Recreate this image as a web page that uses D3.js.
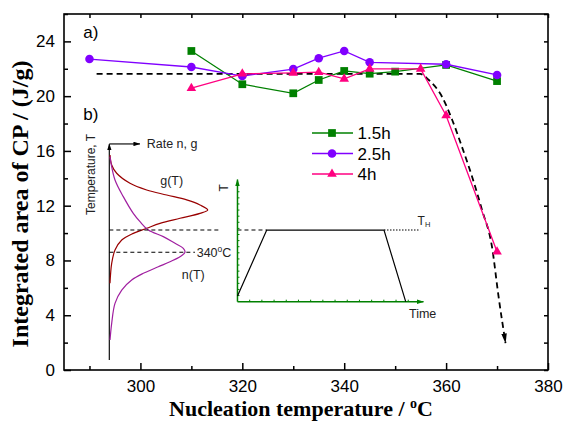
<!DOCTYPE html>
<html>
<head>
<meta charset="utf-8">
<script src="https://cdn.jsdelivr.net/npm/d3@7"></script>
<style>
  body { margin: 0; background: #fff; }
  text { font-family: "Liberation Sans", Arial, sans-serif; }
  .title { font-family: "Liberation Serif", "Times New Roman", serif; font-weight: bold; }
</style>
</head>
<body>
<svg id="chart" width="564" height="421"></svg>
<script>
// main series, temperature (C) and integrated area (J/g)
const t15 = [310, 320, 330, 335, 340, 345, 350, 360, 370];
const v15 = [23.3, 20.87, 20.21, 21.18, 21.84, 21.64, 21.79, 22.28, 21.1];
const t25 = [290, 310, 320, 330, 335, 340, 345, 360, 370];
const v25 = [22.71, 22.13, 21.47, 21.98, 22.77, 23.3, 22.47, 22.33, 21.55];
const t4 = [310, 320, 330, 335, 340, 345, 355, 360, 370];
const v4 = [20.58, 21.63, 21.7, 21.75, 21.26, 21.99, 21.99, 18.59, 8.63];

// dashed guide line
const guideT = [291.4, 354.9, 356.6, 359.2, 361.2, 363.1, 365.1, 367.05, 369.0, 370.3, 371.66];
const guideV = [21.62, 21.62, 21.18, 19.96, 18.26, 16.31, 14.12, 11.69, 9.01, 5.35, 1.97];

// inset b): g(T) and n(T) curves, drawn in the main axis units
const gT = [294.03, 294.36, 295.34, 297.95, 301.23, 305.16, 309.08, 311.69, 313.21, 311.69, 307.77, 303.84, 301.23, 298.6, 296.33, 295.01, 294.36, 294.03];
const gV = [15.70, 14.97, 14.37, 13.64, 13.15, 12.78, 12.42, 12.05, 11.69, 11.44, 11.08, 10.71, 10.35, 9.98, 9.49, 8.76, 7.79, 6.33];
const nT = [294.03, 294.23, 295.01, 296.64, 298.6, 299.92, 301.55, 304.49, 306.79, 308.42, 308.75, 307.77, 305.81, 303.51, 300.57, 298.29, 296.33, 295.01, 294.36, 294.03];
const nV = [15.58, 15.10, 13.88, 12.66, 11.44, 10.83, 10.22, 9.74, 9.25, 8.89, 8.60, 8.27, 7.91, 7.54, 7.06, 6.57, 5.84, 4.87, 3.41, 2.19];

// inset temperature profile (trapezoid)
const profT = [319.05, 324.79, 347.81, 352.07];
const profV = [5.40, 10.22, 10.22, 4.99];

const xTicks = d3.range(290, 381, 10);
const yTicks = d3.range(0, 27, 2);

const green = '#008000';
const purple = '#8000ff';
const pink = '#ff0080';

const svg = d3.select('#chart');
const W = 564, H = 421;
svg.append('rect').attr('width', W).attr('height', H).attr('fill', '#fff');

const x = d3.scaleLinear().domain([285, 380]).range([64, 548]);
const y = d3.scaleLinear().domain([0, 26]).range([370, 14]);

const defs = svg.append('defs');
function arrowMarker(id, color, len, wid) {
  defs.append('marker')
    .attr('id', id)
    .attr('viewBox', `0 ${-wid / 2} ${len} ${wid}`)
    .attr('refX', len - 0.5)
    .attr('refY', 0)
    .attr('markerUnits', 'userSpaceOnUse')
    .attr('markerWidth', len)
    .attr('markerHeight', wid)
    .attr('orient', 'auto')
    .append('path')
      .attr('d', `M0,${-wid / 2}L${len},0L0,${wid / 2}Z`)
      .attr('fill', color);
}
arrowMarker('arrDash', '#000', 10, 5.5);
arrowMarker('arrBlack', '#000', 7, 4.5);
arrowMarker('arrGreen', green, 7, 4.5);

// axes
const bottom = svg.append('g')
  .attr('transform', `translate(0,${y(0)})`)
  .call(d3.axisBottom(x).tickValues(xTicks).tickSizeInner(0).tickSizeOuter(0).tickPadding(9.5)
    .tickFormat(d => (d % 20 === 0 ? d : '')));
bottom.selectAll('.tick line').attr('y2', d => (d % 20 === 0 ? -7 : -4));

const left = svg.append('g')
  .attr('transform', `translate(${x(285)},0)`)
  .call(d3.axisLeft(y).tickValues(yTicks).tickSizeInner(0).tickSizeOuter(0).tickPadding(9)
    .tickFormat(d => (d % 4 === 0 && d <= 24 ? d : '')));
left.selectAll('.tick line').attr('x2', d => (d % 4 === 0 ? 7 : 4));

svg.append('g')
  .attr('transform', `translate(0,${y(26)})`)
  .call(d3.axisTop(x).tickValues(xTicks).tickSizeInner(-4).tickSizeOuter(0).tickFormat(''));

svg.append('g')
  .attr('transform', `translate(${x(380)},0)`)
  .call(d3.axisRight(y).tickValues(yTicks).tickSizeInner(-4).tickSizeOuter(0).tickFormat(''));

svg.selectAll('.domain').remove();
svg.selectAll('.tick line').attr('stroke', '#000').attr('stroke-width', 1.5);
svg.selectAll('.tick text').attr('font-size', 17).attr('fill', '#000')
  .style('font-family', '"Liberation Sans", Arial, sans-serif');

svg.append('rect')
  .attr('x', x(285)).attr('y', y(26))
  .attr('width', x(380) - x(285)).attr('height', y(0) - y(26))
  .attr('fill', 'none').attr('stroke', '#000').attr('stroke-width', 1.6);

// axis titles
svg.append('text')
  .attr('class', 'title')
  .attr('x', 301).attr('y', 416)
  .attr('text-anchor', 'middle')
  .attr('font-size', 22)
  .text('Nucleation temperature / ')
  .append('tspan').attr('font-size', 14).attr('dy', -8).text('o')
  .select(function () { return this.parentNode; })
  .append('tspan').attr('dy', 8).text('C');

svg.append('text')
  .attr('class', 'title')
  .attr('transform', 'translate(28,204) rotate(-90)')
  .attr('text-anchor', 'middle')
  .attr('font-size', 24)
  .text('Integrated area of CP / (J/g)');

// panel letters
svg.append('text').attr('x', x(288.8)).attr('y', y(24.25)).attr('font-size', 17).text('a)');
svg.append('text').attr('x', x(288.8)).attr('y', y(18.26)).attr('font-size', 17).text('b)');

// dashed guide
const guide = guideT.map((t, i) => [t, guideV[i]]);
svg.append('path')
  .attr('d', d3.line().x(d => x(d[0])).y(d => y(d[1])).curve(d3.curveMonotoneX)(guide))
  .attr('fill', 'none')
  .attr('stroke', '#000')
  .attr('stroke-width', 1.8)
  .attr('stroke-dasharray', '6 4')
  .attr('marker-end', 'url(#arrDash)');

// data series
const series = [
  { name: '1.5h', color: green, symbol: d3.symbolSquare, size: 60, t: t15, v: v15 },
  { name: '2.5h', color: purple, symbol: d3.symbolCircle, size: 58, t: t25, v: v25 },
  { name: '4h', color: pink, symbol: d3.symbolTriangle, size: 40, t: t4, v: v4 },
];

const line = d3.line().x(d => x(d[0])).y(d => y(d[1]));
series.forEach((s) => {
  const pts = s.t.map((t, i) => [t, s.v[i]]);
  svg.append('path')
    .attr('d', line(pts))
    .attr('fill', 'none')
    .attr('stroke', s.color)
    .attr('stroke-width', 1.3);
  svg.selectAll(null)
    .data(pts)
    .enter()
    .append('path')
      .attr('d', d3.symbol().type(s.symbol).size(s.size))
      .attr('transform', d => `translate(${x(d[0])},${y(d[1])})`)
      .attr('fill', s.color);
});

// legend
const legend = svg.append('g').attr('transform', 'translate(312,133)');
series.forEach((s, i) => {
  const row = legend.append('g').attr('transform', `translate(0,${i * 20.5})`);
  row.append('line').attr('x1', 0).attr('x2', 41).attr('stroke', s.color).attr('stroke-width', 1.3);
  row.append('path')
    .attr('d', d3.symbol().type(s.symbol).size(s.size))
    .attr('transform', 'translate(20,0)')
    .attr('fill', s.color);
  row.append('text').attr('x', 45.5).attr('dy', '0.36em').attr('font-size', 17).text(s.name);
});

// ---- inset b): rate curves ----
const inset = svg.append('g');
const ink = '#222';

inset.append('line')
  .attr('x1', x(293.9)).attr('y1', y(0.73))
  .attr('x2', x(293.9)).attr('y2', y(16.51))
  .attr('stroke', ink).attr('stroke-width', 1.3)
  .attr('marker-end', 'url(#arrBlack)');
inset.append('line')
  .attr('x1', x(293.9)).attr('y1', y(16.51))
  .attr('x2', x(299.9)).attr('y2', y(16.51))
  .attr('stroke', ink).attr('stroke-width', 1.3)
  .attr('marker-end', 'url(#arrBlack)');

inset.append('text')
  .attr('x', x(301.23)).attr('y', y(16.19))
  .attr('font-size', 12.5).attr('fill', ink)
  .text('Rate n, g');

inset.append('text')
  .attr('transform', `translate(${x(291.1)},${y(11.32)}) rotate(-90)`)
  .attr('font-size', 12).attr('fill', ink)
  .text('Temperature, T');

const curve = d3.line().x(d => x(d[0])).y(d => y(d[1])).curve(d3.curveCatmullRom.alpha(0.5));
inset.append('path')
  .attr('d', curve(gT.map((t, i) => [t, gV[i]])))
  .attr('fill', 'none').attr('stroke', '#990000').attr('stroke-width', 1.2);
inset.append('path')
  .attr('d', curve(nT.map((t, i) => [t, nV[i]])))
  .attr('fill', 'none').attr('stroke', '#a01fa0').attr('stroke-width', 1.2);

// horizontal guides in the inset
const dashes = [
  { t0: 293.9, t1: 315.3, v: 10.22, dash: '4 3' },
  { t0: 319.05, t1: 324.79, v: 10.22, dash: '4 3' },
  { t0: 293.9, t1: 310.7, v: 8.60, dash: '4 3' },
  { t0: 347.81, t1: 354.9, v: 10.22, dash: '1.5 1.5' },
];
dashes.forEach((d) => {
  inset.append('line')
    .attr('x1', x(d.t0)).attr('x2', x(d.t1))
    .attr('y1', y(d.v)).attr('y2', y(d.v))
    .attr('stroke', '#000').attr('stroke-width', 1.1)
    .attr('stroke-dasharray', d.dash);
});

inset.append('text')
  .attr('x', x(306.14)).attr('y', y(13.51))
  .attr('text-anchor', 'middle')
  .attr('font-size', 12.5).attr('fill', ink)
  .text('g(T)');
inset.append('text')
  .attr('x', x(310.38)).attr('y', y(6.65))
  .attr('text-anchor', 'middle')
  .attr('font-size', 12.5).attr('fill', ink)
  .text('n(T)');
inset.append('text')
  .attr('x', x(311.05)).attr('y', y(8.27))
  .attr('font-size', 12.5).attr('fill', ink)
  .text('340')
  .append('tspan').attr('font-size', 8.5).attr('dy', -5).text('o')
  .select(function () { return this.parentNode; })
  .append('tspan').attr('dy', 5).text('C');

// ---- inset: temperature profile ----
const ox = x(319.05), oy = y(4.99);
const timeAxis = d3.scaleLinear().domain([0, 15.25]).range([ox, x(355.56)]);
const tempAxis = d3.scaleLinear().domain([0, 20]).range([oy, y(13.91)]);

inset.append('line')
  .attr('x1', ox).attr('y1', oy).attr('x2', x(355.56)).attr('y2', oy)
  .attr('stroke', green).attr('stroke-width', 1.5)
  .attr('marker-end', 'url(#arrGreen)');
inset.append('line')
  .attr('x1', ox).attr('y1', oy).attr('x2', ox).attr('y2', y(13.91))
  .attr('stroke', green).attr('stroke-width', 1.5)
  .attr('marker-end', 'url(#arrGreen)');

inset.selectAll(null)
  .data(d3.range(1, 15))
  .enter()
  .append('line')
    .attr('x1', d => timeAxis(d)).attr('x2', d => timeAxis(d))
    .attr('y1', oy).attr('y2', oy - 2)
    .attr('stroke', green).attr('stroke-width', 1);
inset.selectAll(null)
  .data(d3.range(1, 19))
  .enter()
  .append('line')
    .attr('x1', ox).attr('x2', ox + 2)
    .attr('y1', d => tempAxis(d)).attr('y2', d => tempAxis(d))
    .attr('stroke', green).attr('stroke-width', 1);

inset.append('path')
  .attr('d', d3.line().x(d => x(d[0])).y(d => y(d[1]))(profT.map((t, i) => [t, profV[i]])))
  .attr('fill', 'none').attr('stroke', '#000').attr('stroke-width', 1.2);

inset.append('text')
  .attr('transform', `translate(${x(317.2)},${y(13.3)}) rotate(-90)`)
  .attr('text-anchor', 'middle')
  .attr('font-size', 12).attr('fill', ink)
  .text('T');
inset.append('text')
  .attr('x', x(355.4)).attr('y', y(3.78))
  .attr('text-anchor', 'middle')
  .attr('font-size', 12.5).attr('fill', ink)
  .text('Time');
inset.append('text')
  .attr('x', x(354.4)).attr('y', y(10.59))
  .attr('font-size', 12).attr('fill', ink)
  .text('T')
  .append('tspan').attr('font-size', 7.5).attr('dy', 2.5).text('H');
</script>
</body>
</html>
